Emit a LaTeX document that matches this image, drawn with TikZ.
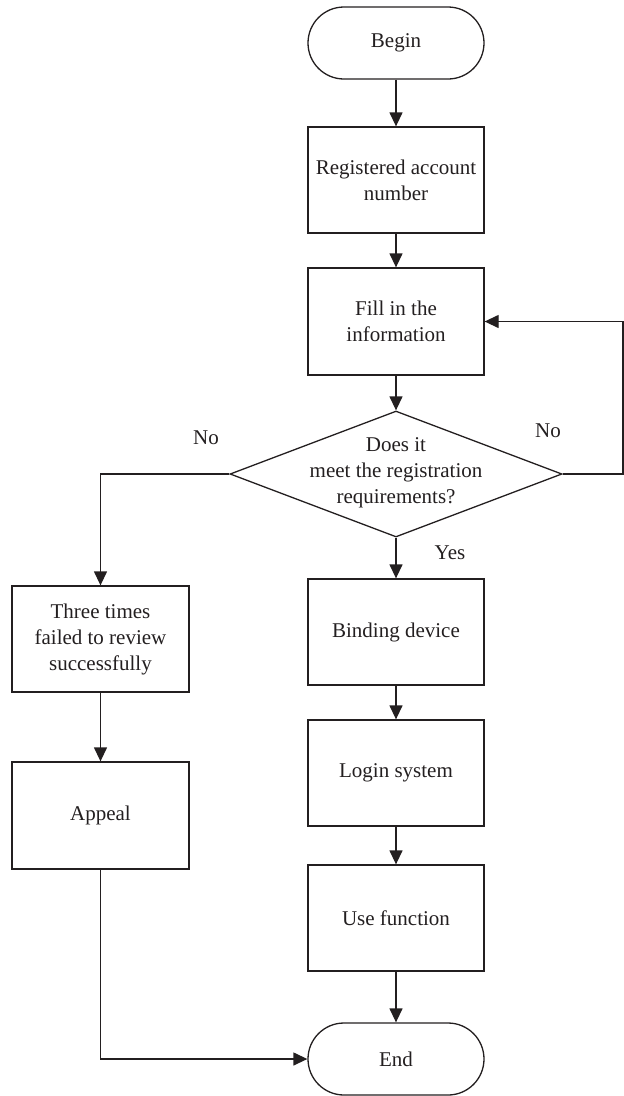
\documentclass[tikz,border=0pt]{standalone}
\usepackage{fontspec}
\setmainfont{Liberation Serif}
\usetikzlibrary{arrows.meta,shapes.geometric}
\definecolor{ink}{HTML}{231F20}
\begin{document}
\begin{tikzpicture}[x=1pt,y=-1pt,
  font=\fontsize{21}{26}\selectfont,
  every node/.style={text=ink},
  box/.style={draw=ink,line width=1.3pt,rectangle,minimum width=176pt,minimum height=106pt,
    inner sep=0pt,align=center},
  term/.style={draw=ink,line width=1.3pt,rectangle,rounded corners=36pt,minimum width=176pt,
    minimum height=72pt,inner sep=0pt},
  decision/.style={draw=ink,line width=1.3pt,diamond,minimum width=332pt,minimum height=126pt,
    inner sep=0pt},
  flow/.style={draw=ink,line width=1.3pt,-{Triangle[length=14pt,width=13pt]}},
  tag/.style={inner sep=0pt}]
\useasboundingbox (0,0) rectangle (624,1096);

% main column
\node[term] (begin) at (396,43) {Begin};
\node[box] (reg) at (396,180) {Registered account\\number};
\node[box,minimum height=107pt] (fill) at (396,321.5) {Fill in the\\information};
\node[decision] (dia) at (396,474) {};
\node[tag,align=center] (diatext) at (396,473) {Does it\\meet the registration\\requirements?};
\node[box] (bind) at (396,632) {Binding device};
\node[box] (login) at (396,773) {Login system};
\node[box] (use) at (396,918) {Use function};
\node[term] (end) at (396,1059) {End};

% left branch
\node[box,minimum width=177pt] (three) at (100.5,639) {Three times\\failed to review\\successfully};
\node[box,minimum width=177pt,minimum height=107pt] (appeal) at (100.5,815.5) {Appeal};

% branch labels
\node[tag] (noL) at (206,438) {No};
\node[tag] (noR) at (548,431) {No};
\node[tag] (yes) at (450,553) {Yes};

\coordinate (rightrail) at (623,0);

% connectors
\draw[flow] (begin) -- (reg);
\draw[flow] (reg) -- (fill);
\draw[flow] (fill) -- (dia.north);
\draw[flow] (dia.south) -- (bind);
\draw[flow] (bind) -- (login);
\draw[flow] (login) -- (use);
\draw[flow] (use) -- (end);
\draw[flow] (dia.east) -- (dia.east -| rightrail) |- (fill.east);
\draw[flow] (dia.west) -| (three.north);
\draw[flow] (three) -- (appeal);
\draw[flow] (appeal.south) |- (end.west);
\end{tikzpicture}
\end{document}
